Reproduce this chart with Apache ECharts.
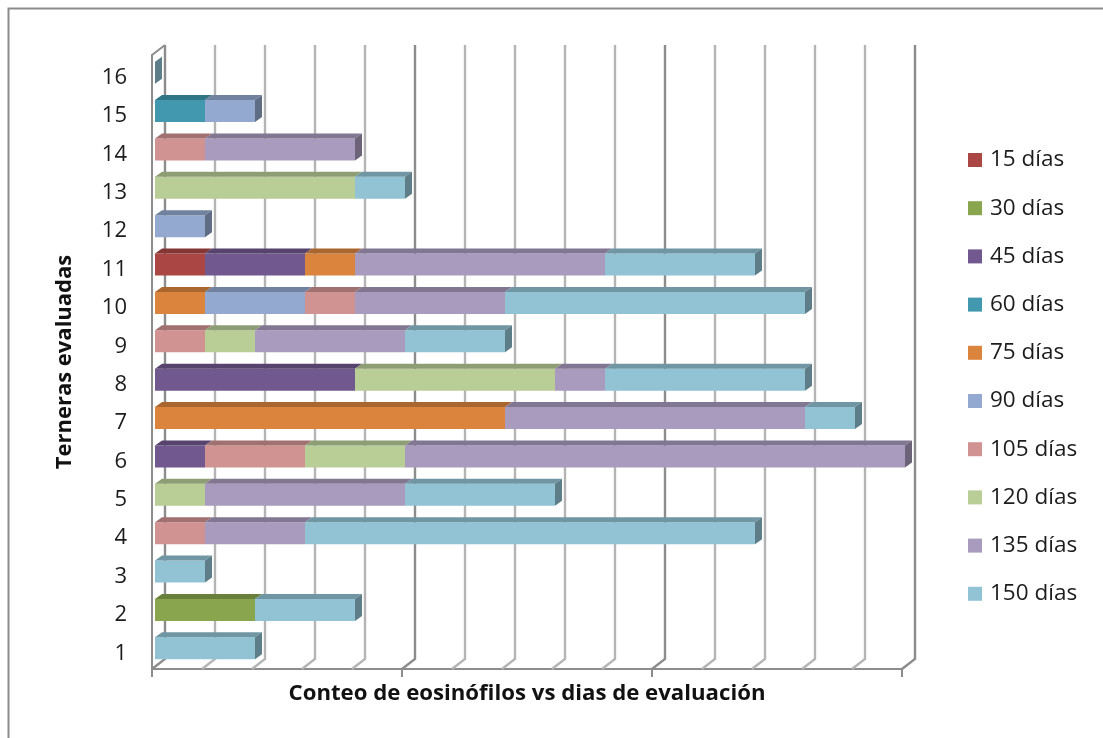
<!DOCTYPE html>
<html>
<head>
<meta charset="utf-8">
<style>html,body{margin:0;padding:0;background:#fff}#chart{width:1103px;height:738px}</style>
<script src="https://cdn.jsdelivr.net/npm/echarts@6/dist/echarts.min.js"></script>
</head>
<body>
<div id="chart"></div>
<script>
// Eosinophil counts per calf, stacked by evaluation day
const categories = ['1','2','3','4','5','6','7','8','9','10','11','12','13','14','15','16'];
const dias15  = [null,null,null,null,null,null,null,null,null,null,1,null,null,null,null,null];
const dias30  = [null,2,null,null,null,null,null,null,null,null,null,null,null,null,null,null];
const dias45  = [null,null,null,null,null,1,null,4,null,null,2,null,null,null,null,null];
const dias60  = [null,null,null,null,null,null,null,null,null,null,null,null,null,null,1,null];
const dias75  = [null,null,null,null,null,null,7,null,null,1,1,null,null,null,null,null];
const dias90  = [null,null,null,null,null,null,null,null,null,2,null,1,null,null,1,null];
const dias105 = [null,null,null,1,null,2,null,null,1,1,null,null,null,1,null,null];
const dias120 = [null,null,null,null,1,2,null,4,1,null,null,null,4,null,null,null];
const dias135 = [null,null,null,2,4,10,6,1,3,3,5,null,null,3,null,null];
const dias150 = [2,2,1,9,3,null,1,4,2,6,3,null,1,null,null,0];

const seriesNames = ['15 días','30 días','45 días','60 días','75 días','90 días','105 días','120 días','135 días','150 días'];
const seriesValues = [dias15,dias30,dias45,dias60,dias75,dias90,dias105,dias120,dias135,dias150];
const seriesColors = ['#AA4643','#89A54E','#71588F','#4198AF','#DB843D','#93A9CF','#D19392','#B9CD96','#A99BBD','#92C3D5'];
const axisTicks = [0,1,2,3,4,5,6,7,8,9,10,11,12,13,14,15];

// Perspective of the pseudo-3D box and of the bars standing inside it
const wallDx = 13, wallDy = -10;
const barDx = 3, barDy = -1.5, barDepthX = 7, barDepthY = -5, barHeight = 22;

const font = '"Open Sans", Lato, sans-serif';

// Scales the RGB channels to shade the top and side faces of a bar
function shade(hex, factor) {
  const n = parseInt(hex.slice(1), 16);
  const channel = shift => Math.round(((n >> shift) & 255) * factor);
  return `rgb(${channel(16)},${channel(8)},${channel(0)})`;
}

// Cumulative start of every segment in its row
const running = categories.map(() => 0);
const lastInRow = categories.map((_, r) => {
  let last = -1;
  seriesValues.forEach((arr, s) => { if (arr[r] !== null) last = s; });
  return last;
});

function barSeries(name, values, color, sIdx) {
  const data = [];
  values.forEach((v, r) => {
    if (v === null) return;
    data.push([r, running[r], running[r] + v, lastInRow[r] === sIdx ? 1 : 0]);
    running[r] += v;
  });
  return {
    type: 'custom', name, data, z: 5,
    itemStyle: { color },
    encode: { x: [1, 2], y: 0 },
    renderItem(params, api) {
      const row = api.value(0);
      const a = api.coord([api.value(1), row]);
      const b = api.coord([api.value(2), row]);
      const x0 = a[0] + barDx, x1 = b[0] + barDx;
      const y0 = a[1] + barDy - barHeight / 2, y1 = y0 + barHeight;
      const children = [];
      if (x1 > x0) {
        children.push({ type: 'rect', shape: { x: x0, y: y0, width: x1 - x0, height: barHeight },
          style: { fill: color } });
        children.push({ type: 'polygon',
          shape: { points: [[x0, y0], [x1, y0], [x1 + barDepthX, y0 + barDepthY], [x0 + barDepthX, y0 + barDepthY]] },
          style: { fill: shade(color, 0.77) } });
      }
      if (api.value(3)) {
        children.push({ type: 'polygon',
          shape: { points: [[x1, y0], [x1 + barDepthX, y0 + barDepthY], [x1 + barDepthX, y1 + barDepthY], [x1, y1]] },
          style: { fill: shade(color, 0.64) } });
      }
      return { type: 'group', children };
    }
  };
}

// Back wall gridlines and the floor slants leading to them
const wallSeries = {
  type: 'custom', silent: true, z: 1, legendHoverLink: false,
  data: axisTicks.map(t => [t]),
  encode: { x: 0 },
  renderItem(params, api) {
    const t = api.value(0);
    const p = [api.coord([t, 0])[0], params.coordSys.y + params.coordSys.height];
    const stroke = t % 5 === 0 ? '#8c8c8c' : '#b4b4b4';
    const topY = params.coordSys.y + wallDy;
    const style = { stroke, lineWidth: 2.4, fill: null };
    return { type: 'group', children: [
      { type: 'polyline', shape: { points: [p, [p[0] + wallDx, p[1] + wallDy], [p[0] + wallDx, topY]] }, style }
    ] };
  }
};

const chart = echarts.init(document.getElementById('chart'), null, { renderer: 'canvas' });
chart.setOption({
  animation: false,
  backgroundColor: '#fff',
  graphic: [{
    type: 'polyline', silent: true,
    shape: { points: [[8.5, 738], [8.5, 8.5], [1103, 8.5]] },
    style: { stroke: '#8c8c8c', lineWidth: 2, fill: null }
  }, {
    // Closes the top of the box between the front axis and the back wall
    type: 'line', silent: true,
    shape: { x1: 152, y1: 55, x2: 165, y2: 45 },
    style: { stroke: '#8c8c8c', lineWidth: 2 }
  }],
  // The second grid only carries the row labels, set slightly lower than the bands
  grid: [
    { left: 152, top: 55, width: 750, height: 614 },
    { left: 152, top: 58.5, width: 750, height: 614 }
  ],
  legend: {
    orient: 'vertical', left: 963, top: 141,
    itemWidth: 14, itemHeight: 14, itemGap: 20.2, icon: 'rect',
    selectedMode: false,
    data: seriesNames,
    textStyle: { fontFamily: font, fontSize: 22.5, color: '#1c1c1c', lineHeight: 28, padding: [0, 0, 0, 3] }
  },
  xAxis: [{
    type: 'value', min: 0, max: 15, interval: 5,
    name: 'Conteo de eosinófilos vs dias de evaluación',
    nameLocation: 'middle', nameGap: 14,
    nameTextStyle: { fontFamily: font, fontSize: 22.2, fontWeight: 'bold', color: '#111' },
    axisLine: { show: true, lineStyle: { color: '#8c8c8c', width: 2 } },
    axisTick: { show: true, length: 8, lineStyle: { color: '#8c8c8c', width: 2 } },
    axisLabel: { show: false },
    splitLine: { show: false }
  }, {
    gridIndex: 1, type: 'value', min: 0, max: 15, show: false
  }],
  yAxis: [{
    type: 'category', data: categories,
    name: 'Terneras evaluadas',
    nameLocation: 'middle', nameGap: 76, nameRotate: 90,
    nameTextStyle: { fontFamily: font, fontSize: 22, fontWeight: 'bold', color: '#111' },
    axisLine: { show: true, lineStyle: { color: '#8c8c8c', width: 2 } },
    axisTick: { show: false },
    axisLabel: { show: false }
  }, {
    gridIndex: 1, type: 'category', data: categories,
    axisLine: { show: false },
    axisTick: { show: false },
    axisLabel: { fontFamily: font, fontSize: 22, color: '#1c1c1c', margin: 25 }
  }],
  series: [wallSeries].concat(seriesValues.map((v, i) => barSeries(seriesNames[i], v, seriesColors[i], i)))
});
</script>
</body>
</html>
